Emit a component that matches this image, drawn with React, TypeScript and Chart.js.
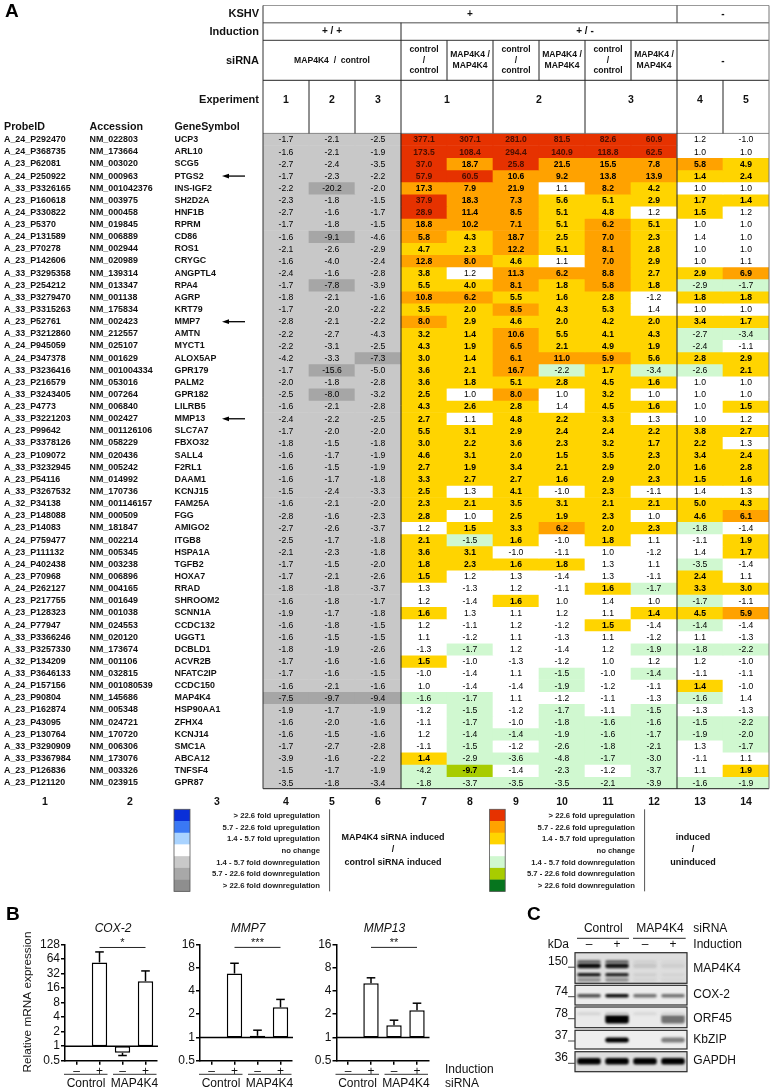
import React, { useEffect, useRef } from "react";
import { Chart, registerables } from "chart.js";

Chart.register(...registerables);
const FONT = '"Liberation Sans", Arial, sans-serif';
Chart.defaults.font.family = FONT;
const PAGE_W = 773, PAGE_H = 1092;

const probeIds = ["A_24_P292470","A_24_P368735","A_23_P62081","A_24_P250922","A_33_P3326165","A_23_P160618","A_24_P330822","A_23_P5370","A_24_P131589","A_23_P70278","A_23_P142606","A_33_P3295358","A_23_P254212","A_33_P3279470","A_33_P3315263","A_23_P52761","A_33_P3212860","A_24_P945059","A_24_P347378","A_33_P3236416","A_23_P216579","A_33_P3243405","A_23_P4773","A_33_P3221203","A_23_P99642","A_33_P3378126","A_23_P109072","A_33_P3232945","A_23_P54116","A_33_P3267532","A_32_P34138","A_23_P148088","A_23_P14083","A_24_P759477","A_23_P111132","A_24_P402438","A_23_P70968","A_24_P262127","A_23_P217755","A_23_P128323","A_24_P77947","A_33_P3366246","A_33_P3257330","A_32_P134209","A_33_P3646133","A_24_P157156","A_23_P90804","A_23_P162874","A_23_P43095","A_23_P130764","A_33_P3290909","A_33_P3367984","A_23_P126836","A_23_P121120"];
const accessions = ["NM_022803","NM_173664","NM_003020","NM_000963","NM_001042376","NM_003975","NM_000458","NM_019845","NM_006889","NM_002944","NM_020989","NM_139314","NM_013347","NM_001138","NM_175834","NM_002423","NM_212557","NM_025107","NM_001629","NM_001004334","NM_053016","NM_007264","NM_006840","NM_002427","NM_001126106","NM_058229","NM_020436","NM_005242","NM_014992","NM_170736","NM_001146157","NM_000509","NM_181847","NM_002214","NM_005345","NM_003238","NM_006896","NM_004165","NM_001649","NM_001038","NM_024553","NM_020120","NM_173674","NM_001106","NM_032815","NM_001080539","NM_145686","NM_005348","NM_024721","NM_170720","NM_006306","NM_173076","NM_003326","NM_023915"];
const geneSymbols = ["UCP3","ARL10","SCG5","PTGS2","INS-IGF2","SH2D2A","HNF1B","RPRM","CD86","ROS1","CRYGC","ANGPTL4","RPA4","AGRP","KRT79","MMP7","AMTN","MYCT1","ALOX5AP","GPR179","PALM2","GPR182","LILRB5","MMP13","SLC7A7","FBXO32","SALL4","F2RL1","DAAM1","KCNJ15","FAM25A","FGG","AMIGO2","ITGB8","HSPA1A","TGFB2","HOXA7","RRAD","SHROOM2","SCNN1A","CCDC132","UGGT1","DCBLD1","ACVR2B","NFATC2IP","CCDC150","MAP4K4","HSP90AA1","ZFHX4","KCNJ14","SMC1A","ABCA12","TNFSF4","GPR87"];
const arrowGenes = ["PTGS2", "MMP7", "MMP13"];

// MAP4K4 siRNA / control siRNA, induced: experiments 1-3
const knockdownValues = [
[-1.7,-2.1,-2.5],[-1.6,-2.1,-1.9],[-2.7,-2.4,-3.5],[-1.7,-2.3,-2.2],[-2.2,-20.2,-2.0],[-2.3,-1.8,-1.5],[-2.7,-1.6,-1.7],[-1.7,-1.8,-1.5],[-1.6,-9.1,-4.6],
[-2.1,-2.6,-2.9],[-1.6,-4.0,-2.4],[-2.4,-1.6,-2.8],[-1.7,-7.8,-3.9],[-1.8,-2.1,-1.6],[-1.7,-2.0,-2.2],[-2.8,-2.1,-2.2],[-2.2,-2.7,-4.3],[-2.2,-3.1,-2.5],
[-4.2,-3.3,-7.3],[-1.7,-15.6,-5.0],[-2.0,-1.8,-2.8],[-2.5,-8.0,-3.2],[-1.6,-2.1,-2.8],[-2.4,-2.2,-2.5],[-1.7,-2.0,-2.0],[-1.8,-1.5,-1.8],[-1.6,-1.7,-1.9],
[-1.6,-1.5,-1.9],[-1.6,-1.7,-1.8],[-1.5,-2.4,-3.3],[-1.6,-2.1,-2.0],[-2.8,-1.6,-2.3],[-2.7,-2.6,-3.7],[-2.5,-1.7,-1.8],[-2.1,-2.3,-1.8],[-1.7,-1.5,-2.0],
[-1.7,-2.1,-2.6],[-1.8,-1.8,-3.7],[-1.6,-1.8,-1.7],[-1.9,-1.7,-1.8],[-1.6,-1.8,-1.5],[-1.6,-1.5,-1.5],[-1.8,-1.9,-2.6],[-1.7,-1.6,-1.6],[-1.7,-1.6,-1.5],
[-1.6,-2.1,-1.6],[-7.5,-9.7,-9.4],[-1.9,-1.7,-1.9],[-1.6,-2.0,-1.6],[-1.6,-1.5,-1.6],[-1.7,-2.7,-2.8],[-3.9,-1.6,-2.2],[-1.5,-1.7,-1.9],[-3.5,-1.8,-3.4],
];
// induced / uninduced, KSHV+: control and MAP4K4 siRNA in experiments 1-3.
// Values near the 1.4-fold boundary keep a second decimal: it decides the cell class.
const inductionValues = [
[377.1,307.1,281.0,81.5,82.6,60.9],[173.5,108.4,294.4,140.9,118.8,62.5],[37.0,18.7,25.8,21.5,15.5,7.8],[57.9,60.5,10.6,9.2,13.8,13.9],[17.3,7.9,21.9,1.1,8.2,4.2],[37.9,18.3,7.3,5.6,5.1,2.9],
[28.9,11.4,8.5,5.1,4.8,1.2],[18.8,10.2,7.1,5.1,6.2,5.1],[5.8,4.3,18.7,2.5,7.0,2.3],[4.7,2.3,12.2,5.1,8.1,2.8],[12.8,8.0,4.6,1.1,7.0,2.9],[3.8,1.2,11.3,6.2,8.8,2.7],
[5.5,4.0,8.1,1.8,5.8,1.8],[10.8,6.2,5.5,1.6,2.8,-1.2],[3.5,2.0,8.5,4.3,5.3,1.38],[8.0,2.9,4.6,2.0,4.2,2.0],[3.2,1.44,10.6,5.5,4.1,4.3],[4.3,1.9,6.5,2.1,4.9,1.9],
[3.0,1.44,6.1,11.0,5.9,5.6],[3.6,2.1,16.7,-2.2,1.7,-3.4],[3.6,1.8,5.1,2.8,4.5,1.6],[2.5,1.0,8.0,1.0,3.2,1.0],[4.3,2.6,2.8,1.38,4.5,1.6],[2.7,1.1,4.8,2.2,3.3,1.3],
[5.5,3.1,2.9,2.4,2.4,2.2],[3.0,2.2,3.6,2.3,3.2,1.7],[4.6,3.1,2.0,1.5,3.5,2.3],[2.7,1.9,3.4,2.1,2.9,2.0],[3.3,2.7,2.7,1.6,2.9,2.3],[2.5,1.3,4.1,-1.0,2.3,-1.1],
[2.3,2.1,3.5,3.1,2.1,2.1],[2.8,1.0,2.5,1.9,2.3,1.0],[1.2,1.5,3.3,6.2,2.0,2.3],[2.1,-1.5,1.6,-1.0,1.8,1.1],[3.6,3.1,-1.0,-1.1,1.0,-1.2],[1.8,2.3,1.6,1.8,1.3,1.1],
[1.5,1.2,1.3,-1.38,1.3,-1.1],[1.3,-1.3,1.2,-1.1,1.6,-1.7],[1.2,-1.38,1.6,1.0,1.38,1.0],[1.6,1.3,1.1,1.2,1.1,1.44],[1.2,-1.1,1.2,-1.2,1.5,-1.38],[1.1,-1.2,1.1,-1.3,1.1,-1.2],
[-1.3,-1.7,1.2,-1.38,1.2,-1.9],[1.5,-1.0,-1.3,-1.2,1.0,1.2],[-1.0,-1.38,1.1,-1.5,-1.0,-1.44],[1.0,-1.38,-1.38,-1.9,-1.2,-1.1],[-1.6,-1.7,1.1,-1.2,-1.1,-1.3],[-1.2,-1.5,-1.2,-1.7,-1.1,-1.5],
[-1.1,-1.7,-1.0,-1.8,-1.6,-1.6],[1.2,-1.44,-1.44,-1.9,-1.6,-1.7],[-1.1,-1.5,-1.2,-2.6,-1.8,-2.1],[1.44,-2.9,-3.6,-4.8,-1.7,-3.0],[-4.2,-9.7,-1.38,-2.3,-1.2,-3.7],[-1.8,-3.7,-3.5,-3.5,-2.1,-3.9],
];
// induced / uninduced, KSHV-: experiments 4 and 5
const uninfectedValues = [
[1.2,-1.0],[1.0,1.0],[5.8,4.9],[1.44,2.4],[1.0,1.0],[1.7,1.44],[1.5,1.2],[1.0,1.0],[1.38,1.0],[1.0,1.0],[1.0,1.1],[2.9,6.9],[-2.9,-1.7],[1.8,1.8],[1.0,1.0],[3.4,1.7],[-2.7,-3.4],[-2.4,-1.1],
[2.8,2.9],[-2.6,2.1],[1.0,1.0],[1.0,1.0],[1.0,1.5],[1.0,1.2],[3.8,2.7],[2.2,1.3],[3.4,2.4],[1.6,2.8],[1.5,1.6],[1.38,1.3],[5.0,4.3],[4.6,6.1],[-1.8,-1.38],[-1.1,1.9],[1.38,1.7],[-3.5,-1.38],
[2.4,1.1],[3.3,3.0],[-1.7,-1.1],[4.5,5.9],[-1.44,-1.38],[1.1,-1.3],[-1.8,-2.2],[1.2,-1.0],[-1.1,-1.1],[1.44,-1.0],[-1.6,1.38],[-1.3,-1.3],[-1.5,-2.2],[-1.9,-2.0],[1.3,-1.7],[-1.1,1.1],[1.1,1.9],[-1.6,-1.9],
];
const columnNumbers = ["4","5","6","7","8","9","10","11","12","13","14"];
const leadingColumnNumbers = ["1","2","3"];
const foldThresholds = [1.42, 5.7, 22.6];
const legendLabels = ["> 22.6 fold upregulation","5.7 - 22.6 fold upregulation","1.4 - 5.7 fold upregulation","no change","1.4 - 5.7 fold downregulation","5.7 - 22.6 fold downregulation","> 22.6 fold downregulation"];
const blueLegendColors = ["#0A2FD8","#3A78F4","#A9D3FF","#FFFFFF","#C9C9C9","#A8A8A8","#8E8E8E"];
const redLegendColors = ["#E63200","#FFA200","#FFD400","#FFFFFF","#D0F8D0","#A8CC00","#06751E"];
const GRAY = "#C8C8C8", GRAY_DARK = "#A6A6A6";

// qPCR panels
const qpcrCategories = ["\u2013", "+", "\u2013", "+"];
const cox2Values = [1, 54, 0.73, 22];
const cox2Errors = [null, 89, 0.64, 36];
const mmp7Values = [1, 6.7, 1.05, 2.45];
const mmp7Errors = [null, 9.1, 1.24, 3.1];
const mmp13Values = [1, 5.0, 1.44, 2.25];
const mmp13Errors = [null, 5.9, 1.67, 2.77];
const cox2Ticks = [0.5, 1, 2, 4, 8, 16, 32, 64, 128];
const mmpTicks = [0.5, 1, 2, 4, 8, 16];

// Immunoblot: band intensity (0 to 1) in the four lanes
const blotLanes = ["Control -", "Control +", "MAP4K4 -", "MAP4K4 +"];
const blotPanels = [
  { name: "MAP4K4", from: 0, to: 30.6, shade: 222, marker: "150", markerAt: 14.5, labelAt: 16 },
  { name: "COX-2", from: 32.6, to: 52.3, shade: 236, marker: "74", markerAt: 44, labelAt: 41.5 },
  { name: "ORF45", from: 54.3, to: 75, shade: 234, marker: "78", markerAt: 66, labelAt: 66 },
  { name: "KbZIP", from: 77.6, to: 96.3, shade: 238, marker: "37", markerAt: 88.3, labelAt: 87.3 },
  { name: "GAPDH", from: 99, to: 119, shade: 222, marker: "36", markerAt: 110.6, labelAt: 107.5 },
];
const blotBands = [
  { pos: 27, thick: 4, levels: [0.35, 0.35, 0.06, 0.05] },
  { pos: 9, thick: 3, levels: [0.6, 0.6, 0.08, 0.05] },
  { pos: 13, thick: 5, levels: [0.95, 0.9, 0.12, 0.08] },
  { pos: 22, thick: 3.4, levels: [0.9, 0.85, 0.08, 0.06] },
  { pos: 43, thick: 3.4, levels: [0.65, 0.95, 0.5, 0.5] },
  { pos: 61, thick: 3, levels: [0.06, 0.12, 0.04, 0.04] },
  { pos: 66.3, thick: 9, levels: [0, 1, 0, 0.5] },
  { pos: 87.3, thick: 5, levels: [0, 1, 0, 0.45] },
  { pos: 108.6, thick: 6.5, levels: [1, 1, 1, 1] },
];

function cellColor(v: number, gray: boolean) {
  const a = Math.abs(v);
  if (gray) return v <= -foldThresholds[1] ? GRAY_DARK : GRAY;
  if (a < foldThresholds[0]) return "#FFFFFF";
  const idx = a > foldThresholds[2] ? 0 : a >= foldThresholds[1] ? 1 : 2;
  return v > 0 ? redLegendColors[idx] : redLegendColors[6 - idx];
}

function txt(ctx: any, s: string, x: number, y: number, font: string, align = "center", color = "#111") {
  ctx.font = font.replace("@", FONT);
  ctx.textAlign = align;
  ctx.textBaseline = "middle";
  ctx.fillStyle = color;
  ctx.fillText(s, x, y);
}
function line(ctx: any, x1: number, y1: number, x2: number, y2: number, color = "#222", w = 1) {
  ctx.strokeStyle = color;
  ctx.lineWidth = w;
  ctx.beginPath();
  ctx.moveTo(x1, y1);
  ctx.lineTo(x2, y2);
  ctx.stroke();
}

const heatPlugin = {
  id: "heatText",
  afterDatasetsDraw(chart: any) {
    const { ctx, scales } = chart;
    const xs = scales.x, ys = scales.y;
    ctx.save();
    const rowY = (r: number) => ys.getPixelForValue(r + 0.5);
    const colX = (c: number) => xs.getPixelForValue(c);
    const edge = (c: number) => (c === 0 ? xs.left : c >= 11 ? xs.right : (colX(c - 1) + colX(c)) / 2);
    // cell values
    rows().forEach((row, r) =>
      row.forEach((v, c) => {
        const bg = cellColor(v, c < 3);
        const strong = bg !== "#FFFFFF" && bg !== GRAY && bg !== GRAY_DARK && bg !== redLegendColors[4];
        const col = bg === redLegendColors[0] ? "#4A0E00" : "#000";
        txt(ctx, v.toFixed(1), colX(c), rowY(r) + 0.6, `${strong ? "bold " : ""}8.6px @`, "center", col);
      })
    );
    // row labels
    probeIds.forEach((p, r) => {
      const y = rowY(r) + 0.2;
      txt(ctx, p, 4, y, "bold 8.9px @", "left");
      txt(ctx, accessions[r], 89.5, y, "bold 8.9px @", "left");
      txt(ctx, geneSymbols[r], 174.5, y, "bold 8.9px @", "left");
      if (arrowGenes.includes(geneSymbols[r])) {
        line(ctx, 226, y, 245, y, "#000", 1.3);
        ctx.fillStyle = "#000";
        ctx.beginPath();
        ctx.moveTo(222, y);
        ctx.lineTo(229, y - 2.4);
        ctx.lineTo(229, y + 2.4);
        ctx.closePath();
        ctx.fill();
      }
    });
    // table grid
    const T = ys.top, B = ys.bottom, L = xs.left, R = xs.right;
    const y0 = 5.5, y1 = 22.7, y2 = 40.3, y3 = 80.3;
    line(ctx, L, y0, R, y0, "#999", 1);
    line(ctx, L, y1, R, y1, "#888", 1.6);
    line(ctx, L, y2, R, y2, "#333", 1);
    line(ctx, L, y3, R, y3, "#222", 1);
    line(ctx, L, T, R, T, "#888", 1);
    line(ctx, L, B, R, B, "#222", 1);
    line(ctx, L, y0, L, B, "#333", 1);
    line(ctx, R, y0, R, B, "#777", 1);
    line(ctx, edge(3), y1, edge(3), B, "#222", 1);
    line(ctx, edge(9), y0, edge(9), y1, "#333", 1);
    line(ctx, edge(9), y2, edge(9), B, "#222", 1);
    [4, 5, 6, 7, 8].forEach((c) => line(ctx, edge(c), y2, edge(c), y3, "#222", 1));
    [1, 2, 5, 7, 10].forEach((c) => line(ctx, edge(c), y3, edge(c), T, "#222", 1));
    // header labels
    const hb = "bold 11px @";
    txt(ctx, "KSHV", 259, 14, hb, "right");
    txt(ctx, "Induction", 259, 31.5, hb, "right");
    txt(ctx, "siRNA", 259, 60.5, hb, "right");
    txt(ctx, "Experiment", 259, 100, hb, "right");
    txt(ctx, "ProbeID", 4, 126.7, "bold 10.7px @", "left");
    txt(ctx, "Accession", 89.5, 126.7, "bold 10.7px @", "left");
    txt(ctx, "GeneSymbol", 174.5, 126.7, "bold 10.7px @", "left");
    txt(ctx, "+", (L + edge(9)) / 2, 14, "bold 10px @");
    txt(ctx, "-", (edge(9) + R) / 2, 14.5, "bold 10px @");
    txt(ctx, "+ / +", (L + edge(3)) / 2, 31.5, "bold 10px @");
    txt(ctx, "+ / -", (edge(3) + R) / 2, 31.5, "bold 10px @");
    txt(ctx, "MAP4K4  /  control", (L + edge(3)) / 2, 60.5, "bold 8.6px @");
    txt(ctx, "-", (edge(9) + R) / 2, 61, "bold 10px @");
    [3, 5, 7].forEach((c) => {
      txt(ctx, "control", colX(c), 50, "bold 8.6px @");
      txt(ctx, "/", colX(c), 60.5, "bold 8.6px @");
      txt(ctx, "control", colX(c), 71, "bold 8.6px @");
      txt(ctx, "MAP4K4 /", colX(c + 1), 55, "bold 8.6px @");
      txt(ctx, "MAP4K4", colX(c + 1), 66, "bold 8.6px @");
    });
    const expFont = "bold 10.5px @";
    ["1", "2", "3"].forEach((t, i) => {
      txt(ctx, t, colX(i), 100, expFont);
      txt(ctx, t, (edge(3 + 2 * i) + edge(5 + 2 * i)) / 2, 100, expFont);
    });
    txt(ctx, "4", colX(9), 100, expFont);
    txt(ctx, "5", colX(10), 100, expFont);
    // column numbers
    [45, 130, 217].forEach((x, i) => txt(ctx, leadingColumnNumbers[i], x, 802, expFont));
    columnNumbers.forEach((t, i) => txt(ctx, t, colX(i), 802, expFont));
    // legends
    const legend = (x: number, w: number, tx: number, sep: number, colors: string[]) => {
      const top = 809.3, h = 11.72;
      colors.forEach((c, i) => {
        ctx.fillStyle = c;
        ctx.fillRect(x, top + i * h, w, h + 0.3);
        txt(ctx, legendLabels[i], tx, top + i * h + 6.4, "bold 7.7px @", "right", "#222");
      });
      ctx.strokeStyle = "#555";
      ctx.lineWidth = 0.8;
      ctx.strokeRect(x, top, w, h * 7);
      line(ctx, sep, top, sep, top + h * 7, "#555", 1);
    };
    legend(174, 16, 320, 329.6, blueLegendColors);
    legend(489.6, 15.6, 635, 644.6, redLegendColors);
    const lf = "bold 9px @";
    txt(ctx, "MAP4K4 siRNA induced", 393, 838, lf);
    txt(ctx, "/", 393, 850, lf);
    txt(ctx, "control siRNA induced", 393, 862.5, lf);
    txt(ctx, "induced", 693, 838, lf);
    txt(ctx, "/", 693, 850, lf);
    txt(ctx, "uninduced", 693, 862.5, lf);
    // panel letters
    txt(ctx, "A", 5, 12, "bold 19px @", "left", "#000");
    txt(ctx, "B", 6, 915, "bold 19px @", "left", "#000");
    txt(ctx, "C", 527, 915, "bold 19px @", "left", "#000");
    ctx.restore();
  },
};

function rows() {
  return knockdownValues.map((r, i) => [...r, ...inductionValues[i], ...uninfectedValues[i]]);
}

function heatConfig(): any {
  const all = rows();
  return {
    type: "bar",
    data: {
      labels: columnNumbers,
      datasets: all.map((row, r) => ({
        label: geneSymbols[r],
        data: row.map(() => [r, r + 1]),
        backgroundColor: row.map((v, c) => cellColor(v, c < 3)),
        borderWidth: 0,
        barPercentage: 1,
        categoryPercentage: 1,
        grouped: false,
      })),
    },
    options: {
      responsive: false,
      animation: false,
      events: [],
      layout: { padding: { left: 263, right: 4, top: 133.4, bottom: 303.3 } },
      plugins: { legend: { display: false }, tooltip: { enabled: false } },
      scales: {
        x: { display: false },
        y: { display: false, reverse: true, min: 0, max: geneSymbols.length },
      },
    },
    plugins: [heatPlugin],
  };
}

interface Qpcr {
  title: string; values: number[]; errors: (number | null)[]; ticks: number[];
  max: number; stars: string; sig: number; showAxisTitle?: boolean; showRowNames?: boolean;
}

function qpcrConfig(q: Qpcr, areaLeft: number): any {
  const axisW = 40;
  const areaTop = 944.3, areaBottom = 1060.7, xAxisH = 20;
  const plugin = {
    id: "qpcrMarks",
    afterDatasetsDraw(chart: any) {
      const { ctx, scales } = chart;
      const xs = scales.x, ys = scales.y;
      ctx.save();
      q.errors.forEach((e, i) => {
        if (e == null) return;
        const x = xs.getPixelForValue(i);
        line(ctx, x, ys.getPixelForValue(q.values[i]), x, ys.getPixelForValue(e), "#000", 1.5);
        line(ctx, x - 4.3, ys.getPixelForValue(e), x + 4.3, ys.getPixelForValue(e), "#000", 1.5);
      });
      line(ctx, xs.left, ys.getPixelForValue(1), xs.right + 1, ys.getPixelForValue(1), "#000", 1.5);
      txt(ctx, q.title, (xs.left + xs.right) / 2 + 2, 929, "italic 12px @", "center", "#111");
      const sy = ys.getPixelForValue(q.sig);
      line(ctx, xs.getPixelForValue(1), sy, xs.getPixelForValue(3), sy, "#222", 1);
      txt(ctx, q.stars, (xs.getPixelForValue(1) + xs.getPixelForValue(3)) / 2, 943, "11px @", "center", "#111");
      const gy = 1074.3;
      line(ctx, xs.getPixelForValue(0) - 12.5, gy, xs.getPixelForValue(1) + 8, gy, "#333", 1);
      line(ctx, xs.getPixelForValue(2) - 9.5, gy, xs.getPixelForValue(3) + 11, gy, "#333", 1);
      txt(ctx, "Control", xs.getPixelForValue(0) + 9.5, 1084, "12px @", "center", "#111");
      txt(ctx, "MAP4K4", xs.getPixelForValue(2) + 12, 1084, "12px @", "center", "#111");
      if (q.showRowNames) {
        txt(ctx, "Induction", 445, 1070, "12px @", "left", "#111");
        txt(ctx, "siRNA", 445, 1084, "12px @", "left", "#111");
      }
      if (q.showAxisTitle) {
        ctx.translate(27.7, 1002);
        ctx.rotate(-Math.PI / 2);
        txt(ctx, "Relative mRNA expression", 0, 0, "11.8px @", "center", "#111");
      }
      ctx.restore();
    },
  };
  return {
    type: "bar",
    data: {
      labels: qpcrCategories,
      datasets: [{
        label: q.title,
        data: q.values.map((v) => [1, v]),
        backgroundColor: "#FFFFFF",
        borderColor: "#000",
        borderWidth: 1.5,
        borderSkipped: false,
        barPercentage: 0.67,
        categoryPercentage: 1,
      }],
    },
    options: {
      responsive: false,
      animation: false,
      events: [],
      layout: {
        padding: {
          left: areaLeft - axisW,
          right: PAGE_W - (areaLeft + 92),
          top: areaTop,
          bottom: PAGE_H - areaBottom - xAxisH,
        },
      },
      plugins: { legend: { display: false }, tooltip: { enabled: false } },
      scales: {
        x: {
          afterFit: (s: any) => { s.height = xAxisH; },
          grid: { offset: false, drawOnChartArea: false, tickLength: 4, tickColor: "#000", lineWidth: 1.5 },
          border: { color: "#000", width: 1.5 },
          ticks: { color: "#111", font: { size: 12 }, padding: 0, maxRotation: 0, autoSkip: false },
        },
        y: {
          type: "logarithmic",
          min: 0.5,
          max: q.max,
          afterFit: (s: any) => { s.width = axisW; },
          afterBuildTicks: (s: any) => { s.ticks = q.ticks.map((value) => ({ value })); },
          grid: { drawOnChartArea: false, tickLength: 4, tickColor: "#000", lineWidth: 1.5 },
          border: { color: "#000", width: 1.5 },
          ticks: { color: "#111", font: { size: 12 }, padding: 1, autoSkip: false, callback: (v: number) => String(v) },
        },
      },
    },
    plugins: [plugin],
  };
}

function blotConfig(): any {
  const areaL = 575, areaR = 687, areaT = 952.7, areaB = 1071.7;
  const plugin = {
    id: "blot",
    beforeDatasetsDraw(chart: any) {
      const { ctx, scales } = chart;
      const xs = scales.x, ys = scales.y;
      ctx.save();
      blotPanels.forEach((p) => {
        const s = p.shade;
        ctx.fillStyle = `rgb(${s},${s},${s})`;
        ctx.fillRect(xs.left, ys.getPixelForValue(p.from), xs.right - xs.left, ys.getPixelForValue(p.to) - ys.getPixelForValue(p.from));
      });
      ctx.restore();
    },
    beforeDatasetDraw(chart: any) { chart.ctx.filter = "blur(1.3px)"; },
    afterDatasetDraw(chart: any) { chart.ctx.filter = "none"; },
    afterDatasetsDraw(chart: any) {
      const { ctx, scales } = chart;
      const xs = scales.x, ys = scales.y;
      ctx.save();
      // white gaps between panels hide any blur overflow
      blotPanels.forEach((p, i) => {
        const next = blotPanels[i + 1];
        if (next) {
          ctx.fillStyle = "#FFF";
          ctx.fillRect(xs.left - 1, ys.getPixelForValue(p.to), xs.right - xs.left + 2, ys.getPixelForValue(next.from) - ys.getPixelForValue(p.to));
        }
        ctx.strokeStyle = "#2A2A2A";
        ctx.lineWidth = 1.2;
        ctx.strokeRect(xs.left, ys.getPixelForValue(p.from), xs.right - xs.left, ys.getPixelForValue(p.to) - ys.getPixelForValue(p.from));
        const my = ys.getPixelForValue(p.markerAt);
        line(ctx, xs.left - 7, my, xs.left, my, "#444", 1);
        txt(ctx, p.marker, xs.left - 7, my - 5.5, "12px @", "right", "#111");
        txt(ctx, p.name, 693.3, ys.getPixelForValue(p.labelAt), "12px @", "left", "#111");
      });
      const ly = 945;
      blotLanes.forEach((_, i) => txt(ctx, i % 2 ? "+" : "\u2013", xs.getPixelForValue(i), ly, "12px @", "center", "#111"));
      txt(ctx, "kDa", 569, ly, "12px @", "right", "#111");
      txt(ctx, "Induction", 693.3, ly, "12px @", "left", "#111");
      txt(ctx, "siRNA", 693.3, 929, "12px @", "left", "#111");
      txt(ctx, "Control", 603.3, 929, "12px @", "center", "#111");
      txt(ctx, "MAP4K4", 660, 929, "12px @", "center", "#111");
      line(ctx, 577, 938.3, 629, 938.3, "#222", 1);
      line(ctx, 633, 938.3, 685.7, 938.3, "#222", 1);
      ctx.restore();
    },
  };
  return {
    type: "bar",
    data: {
      labels: blotLanes,
      datasets: blotBands.map((b) => ({
        data: b.levels.map((l) => (l > 0 ? [b.pos - b.thick / 2, b.pos + b.thick / 2] : null)),
        backgroundColor: b.levels.map((l) => {
          const g = Math.round(225 * (1 - l));
          return `rgb(${g},${g},${g})`;
        }),
        borderWidth: 0,
        borderRadius: 2.5,
        borderSkipped: false,
        grouped: false,
        barPercentage: 0.84,
        categoryPercentage: 1,
      })),
    },
    options: {
      responsive: false,
      animation: false,
      events: [],
      layout: { padding: { left: areaL, right: PAGE_W - areaR, top: areaT, bottom: PAGE_H - areaB } },
      plugins: { legend: { display: false }, tooltip: { enabled: false } },
      scales: {
        x: { display: false },
        y: { display: false, reverse: true, min: 0, max: 119 },
      },
    },
    plugins: [plugin],
  };
}

function ChartBox({ config }: any) {
  const ref = useRef<HTMLCanvasElement | null>(null);
  useEffect(() => {
    const c = new Chart(ref.current as any, config);
    return () => c.destroy();
  }, []);
  return <canvas ref={ref} width={PAGE_W} height={PAGE_H} style={{ position: "absolute", left: 0, top: 0, width: PAGE_W, height: PAGE_H, display: "block" }} />;
}

const cox2: Qpcr = { title: "COX-2", values: cox2Values, errors: cox2Errors, ticks: cox2Ticks, max: 128, stars: "*", sig: 110, showAxisTitle: true };
const mmp7: Qpcr = { title: "MMP7", values: mmp7Values, errors: mmp7Errors, ticks: mmpTicks, max: 16, stars: "***", sig: 14.6 };
const mmp13: Qpcr = { title: "MMP13", values: mmp13Values, errors: mmp13Errors, ticks: mmpTicks, max: 16, stars: "**", sig: 14.6, showRowNames: true };

export default function App() {
  return (
    <div style={{ position: "absolute", left: 0, top: 0, width: PAGE_W, height: PAGE_H, background: "#fff", overflow: "hidden", filter: "blur(0.35px)" }}>
      <ChartBox config={heatConfig()} />
      <ChartBox config={qpcrConfig(cox2, 65)} />
      <ChartBox config={qpcrConfig(mmp7, 200)} />
      <ChartBox config={qpcrConfig(mmp13, 336.5)} />
      <ChartBox config={blotConfig()} />
    </div>
  );
}
